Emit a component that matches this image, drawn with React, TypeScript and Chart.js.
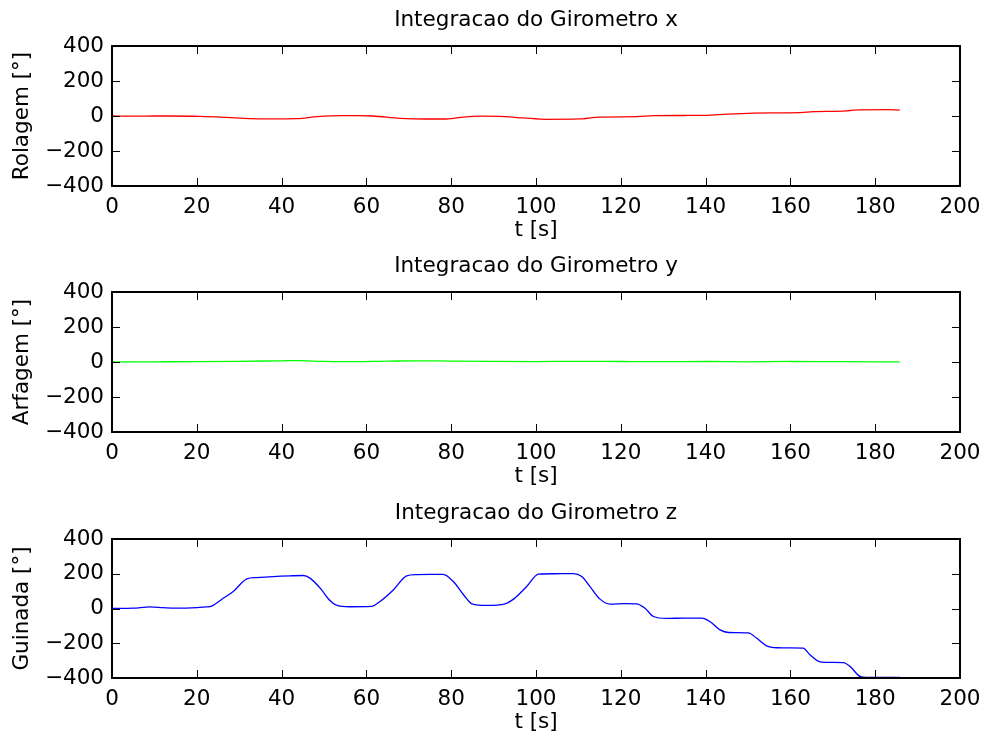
import React, { useEffect, useRef } from 'react';
import { Chart, registerables } from 'chart.js';

Chart.register(...registerables);

// ---- tick labels ----
const xTicks = [0, 20, 40, 60, 80, 100, 120, 140, 160, 180, 200];
const yTicks = [-400, -200, 0, 200, 400];

// ---- texts ----
const titles = ['Integracao do Girometro x', 'Integracao do Girometro y', 'Integracao do Girometro z'];
const yLabels = ['Rolagem [°]', 'Arfagem [°]', 'Guinada [°]'];
const xLabel = 't [s]';

// ---- series: roll (x gyro) ----
const rollT = [0, 6, 10, 12.9, 20.8, 27, 32.5, 38, 43.6, 48.3, 54.6, 58, 61.6, 67.9, 74, 78.9, 82.9, 87, 91.5, 97, 102.5, 110, 115.1, 123.7, 127.7, 135, 140.3, 145, 151.3, 157, 162.3, 165.4, 173.3, 174.8, 182.7, 185.8];
const rollDeg = [0, -1, 0, 0, -2, -8, -15, -16, -15, -4, 2, 2, 0, -13, -17, -17, -6, -1, -2, -11, -19, -17, -6, -4, 2, 3, 4, 11, 17, 18, 19, 25, 29, 34, 36, 34];

// ---- series: pitch (y gyro) ----
const pitchT = [0, 10, 20, 30, 40, 44, 50, 55, 65, 72, 80, 90, 100, 110, 120, 130, 140, 150, 160, 170, 180, 185.8];
const pitchDeg = [0, 1, 2, 4, 7, 8, 3, 2, 5, 7, 5, 3, 2, 4, 3, 2, 3, 1, 3, 2, 1, 1];

// ---- series: yaw (z gyro) ----
const yawT = [0, 5, 9, 12, 15, 20, 22.3, 23.5, 26.3, 28.6, 31.8, 34, 38, 42, 45.1, 46.7, 49.1, 51.4, 52.9, 56.1, 61.2, 63.2, 66.4, 69.5, 71.9, 75, 78.1, 80.5, 82.9, 84.9, 88.4, 92.7, 94.7, 97.8, 100.6, 104, 108.8, 110.8, 112.7, 115.1, 117.5, 121, 123.7, 125.7, 127.7, 130.8, 135, 139.1, 141, 143.4, 145.4, 150.1, 152, 154.4, 156.8, 160, 163, 164.6, 167, 170, 172.5, 174.1, 176.4, 178, 182, 185.8];
const yawDeg = [0, 2, 9, 5, 2, 5, 9, 14, 60, 98, 171, 178, 184, 188, 190, 175, 117, 46, 19, 10, 12, 40, 108, 188, 195, 196, 196, 155, 79, 27, 18, 27, 54, 127, 198, 200, 201, 184, 127, 54, 25, 28, 27, 2, -46, -57, -55, -55, -75, -123, -138, -140, -170, -215, -226, -227, -228, -266, -307, -310, -311, -334, -391, -397, -397, -397];

const FONT = '"DejaVu Sans", "Liberation Sans", Arial, sans-serif';
const FS = 21.5;
const W = 986;
const H = 747;
const XH = 57;

const framePlugin = {
  id: 'matlabFrame',
  afterDraw(chart: any, _args: any, opts: any) {
    const { ctx, chartArea: a, scales } = chart;
    ctx.save();
    ctx.strokeStyle = '#000';
    ctx.lineWidth = 1;
    const L = 8;
    ctx.beginPath();
    scales.x.ticks.forEach((tk: any) => {
      const px = Math.round(scales.x.getPixelForValue(tk.value)) + 0.5;
      ctx.moveTo(px, a.bottom);
      ctx.lineTo(px, a.bottom - L);
      ctx.moveTo(px, a.top);
      ctx.lineTo(px, a.top + L);
    });
    scales.y.ticks.forEach((tk: any) => {
      const py = Math.round(scales.y.getPixelForValue(tk.value)) + 0.5;
      ctx.moveTo(a.left, py);
      ctx.lineTo(a.left + L, py);
      ctx.moveTo(a.right, py);
      ctx.lineTo(a.right - L, py);
    });
    ctx.stroke();
    ctx.lineWidth = 2;
    ctx.strokeRect(a.left, a.top, a.right - a.left, a.bottom - a.top);
    ctx.fillStyle = '#000';
    ctx.font = `${FS}px ${FONT}`;
    ctx.textAlign = 'center';
    ctx.textBaseline = 'middle';
    ctx.fillText(opts.text, (a.left + a.right) / 2, a.top - 26);
    ctx.restore();
  },
};

const fmt = (v: number | string) => String(v).replace('-', '\u2212');

type SubProps = {
  t: number[];
  v: number[];
  color: string;
  title: string;
  ylabel: string;
  top: number;
  bottom: number;
};

function Subplot({ t, v, color, title, ylabel, top, bottom }: SubProps) {
  const ref = useRef<HTMLCanvasElement | null>(null);
  useEffect(() => {
    if (!ref.current) return;
    const chart = new Chart(ref.current, {
      type: 'line',
      data: {
        datasets: [
          {
            data: t.map((x, i) => ({ x, y: v[i] })),
            borderColor: color,
            borderWidth: 1.3,
            pointRadius: 0,
            cubicInterpolationMode: 'monotone',
            fill: false,
          },
        ],
      },
      plugins: [framePlugin],
      options: {
        animation: false,
        responsive: false,
        devicePixelRatio: 1,
        events: [],
        layout: { autoPadding: false, padding: { top, left: 0, right: W - 960, bottom: H - bottom - XH } },
        plugins: {
          legend: { display: false },
          tooltip: { enabled: false },
          title: { display: false },
          matlabFrame: { text: title },
        } as any,
        scales: {
          x: {
            type: 'linear',
            min: 0,
            max: 200,
            afterBuildTicks: (s: any) => {
              s.ticks = xTicks.map((value) => ({ value }));
            },
            afterFit: (s: any) => {
              s.height = XH;
              s.paddingLeft = 0;
              s.paddingRight = 0;
            },
            grid: { display: false, drawTicks: false },
            border: { display: false },
            ticks: {
              color: '#000',
              font: { family: FONT, size: FS },
              padding: 9,
              maxRotation: 0,
              autoSkip: false,
              callback: (val: any) => fmt(val),
            },
            title: {
              display: true,
              text: xLabel,
              color: '#000',
              font: { family: FONT, size: FS },
              padding: { top: 0, bottom: 0 },
            },
          },
          y: {
            type: 'linear',
            min: -400,
            max: 400,
            afterBuildTicks: (s: any) => {
              s.ticks = yTicks.map((value) => ({ value }));
            },
            afterFit: (s: any) => {
              s.width = 112;
              s.paddingTop = 0;
              s.paddingBottom = 0;
            },
            grid: { display: false, drawTicks: false },
            border: { display: false },
            ticks: {
              color: '#000',
              font: { family: FONT, size: FS },
              padding: 8,
              autoSkip: false,
              callback: (val: any) => fmt(val),
            },
            title: {
              display: true,
              text: ylabel,
              color: '#000',
              font: { family: FONT, size: FS },
              padding: { top: 10, bottom: 0 },
            },
          },
        },
      } as any,
    });
    return () => chart.destroy();
  }, [t, v, color, title, ylabel, top, bottom]);

  return (
    <canvas
      ref={ref}
      width={W}
      height={H}
      style={{ position: 'absolute', left: 0, top: 0, width: W, height: H }}
    />
  );
}

export default function App() {
  return (
    <div style={{ position: 'fixed', left: 0, top: 0, width: W, height: H, background: '#fff', overflow: 'hidden' }}>
      <Subplot t={rollT} v={rollDeg} color="#ff0000" title={titles[0]} ylabel={yLabels[0]} top={46} bottom={186} />
      <Subplot t={pitchT} v={pitchDeg} color="#00ff00" title={titles[1]} ylabel={yLabels[1]} top={292} bottom={432} />
      <Subplot t={yawT} v={yawDeg} color="#0000ff" title={titles[2]} ylabel={yLabels[2]} top={539} bottom={678} />
    </div>
  );
}
